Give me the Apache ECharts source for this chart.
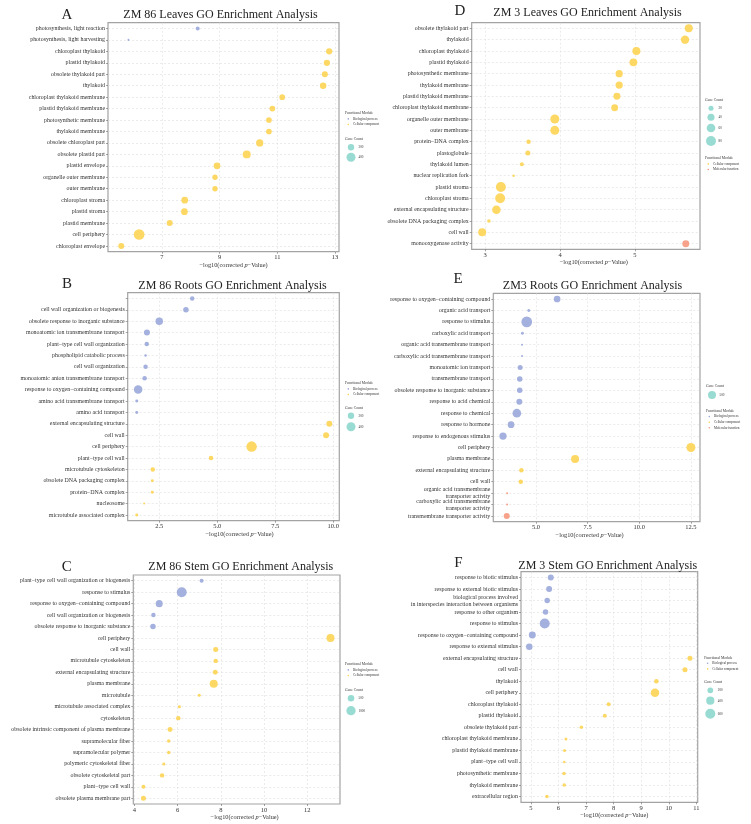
<!doctype html>
<html>
<head>
<meta charset="utf-8">
<title>GO Enrichment Bubble Plots</title>
<script src="https://cdn.jsdelivr.net/npm/echarts@6/dist/echarts.min.js"></script>
</head>
<style>
  html, body { margin: 0; padding: 0; background: #fff; }
  #main { width: 751px; height: 824px; }
</style>
<body>
<div id="main"></div>
<script>
  var SERIF = "'Liberation Serif', 'Times New Roman', serif";

  // ---- A: ZM 86 Leaves ----
  var termsA = ['photosynthesis, light reaction', 'photosynthesis, light harvesting', 'chloroplast thylakoid', 'plastid thylakoid',
    'obsolete thylakoid part', 'thylakoid', 'chloroplast thylakoid membrane', 'plastid thylakoid membrane', 'photosynthetic membrane',
    'thylakoid membrane', 'obsolete chloroplast part', 'obsolete plastid part', 'plastid envelope', 'organelle outer membrane',
    'outer membrane', 'chloroplast stroma', 'plastid stroma', 'plastid membrane', 'cell periphery', 'chloroplast envelope'];
  var pvalA = [8.24, 5.84, 12.80, 12.72, 12.65, 12.59, 11.17, 10.83, 10.71, 10.71, 10.39, 9.94, 8.91, 8.84, 8.84, 7.79, 7.78, 7.27, 6.21, 5.59];
  var countA = [79, 20, 196, 196, 178, 209, 160, 160, 160, 160, 263, 316, 222, 139, 139, 222, 222, 178, 565, 178];
  var moduleA = ['BP', 'BP', 'CC', 'CC', 'CC', 'CC', 'CC', 'CC', 'CC', 'CC', 'CC', 'CC', 'CC', 'CC', 'CC', 'CC', 'CC', 'CC', 'CC', 'CC'];

  // ---- B: ZM 86 Roots ----
  var termsB = ['', 'cell wall organization or biogenesis', 'obsolete response to inorganic substance', 'monoatomic ion transmembrane transport',
    'plant\u2212type cell wall organization', 'phospholipid catabolic process', 'cell wall organization', 'monoatomic anion transmembrane transport',
    'response to oxygen\u2212containing compound', 'amino acid transmembrane transport', 'amino acid transport', 'external encapsulating structure',
    'cell wall', 'cell periphery', 'plant\u2212type cell wall', 'microtubule cytoskeleton', 'obsolete DNA packaging complex',
    'protein\u2212DNA complex', 'nucleosome', 'microtubule associated complex'];
  var pvalB = [3.92, 3.65, 2.50, 1.97, 1.96, 1.91, 1.91, 1.87, 1.59, 1.53, 1.53, 9.83, 9.69, 6.48, 4.73, 2.22, 2.20, 2.20, 1.85, 1.53];
  var countB = [100, 149, 278, 178, 100, 31, 100, 100, 357, 44, 44, 178, 178, 544, 100, 100, 44, 44, 20, 44];
  var moduleB = ['BP', 'BP', 'BP', 'BP', 'BP', 'BP', 'BP', 'BP', 'BP', 'BP', 'BP', 'CC', 'CC', 'CC', 'CC', 'CC', 'CC', 'CC', 'CC', 'CC'];

  // ---- C: ZM 86 Stem ----
  var termsC = ['plant\u2212type cell wall organization or biogenesis', 'response to stimulus', 'response to oxygen\u2212containing compound',
    'cell wall organization or biogenesis', 'obsolete response to inorganic substance', 'cell periphery', 'cell wall', 'microtubule cytoskeleton',
    'external encapsulating structure', 'plasma membrane', 'microtubule', 'microtubule associated complex', 'cytoskeleton',
    'obsolete intrinsic component of plasma membrane', 'supramolecular fiber', 'supramolecular polymer', 'polymeric cytoskeletal fiber',
    'obsolete cytoskeletal part', 'plant\u2212type cell wall', 'obsolete plasma membrane part'];
  var pvalC = [7.11, 6.19, 5.15, 4.88, 4.86, 13.07, 7.76, 7.76, 7.74, 7.67, 7.00, 6.08, 6.03, 5.65, 5.59, 5.59, 5.36, 5.28, 4.42, 4.42];
  var countC = [185, 1157, 567, 234, 350, 740, 289, 234, 289, 740, 104, 104, 234, 289, 142, 142, 104, 234, 185, 289];
  var moduleC = ['BP', 'BP', 'BP', 'BP', 'BP', 'CC', 'CC', 'CC', 'CC', 'CC', 'CC', 'CC', 'CC', 'CC', 'CC', 'CC', 'CC', 'CC', 'CC', 'CC'];

  // ---- D: ZM 3 Leaves ----
  var termsD = ['obsolete thylakoid part', 'thylakoid', 'chloroplast thylakoid', 'plastid thylakoid', 'photosynthetic membrane',
    'thylakoid membrane', 'plastid thylakoid membrane', 'chloroplast thylakoid membrane', 'organelle outer membrane', 'outer membrane',
    'protein\u2212DNA complex', 'plastoglobule', 'thylakoid lumen', 'nuclear replication fork', 'plastid stroma', 'chloroplast stroma',
    'external encapsulating structure', 'obsolete DNA packaging complex', 'cell wall', 'monooxygenase activity'];
  var pvalD = [5.72, 5.67, 5.02, 4.98, 4.79, 4.79, 4.76, 4.73, 3.93, 3.93, 3.58, 3.57, 3.49, 3.38, 3.21, 3.20, 3.15, 3.05, 2.96, 5.68];
  var countD = [51, 55, 51, 49, 42, 42, 39, 38, 65, 65, 16, 20, 13, 5, 80, 78, 58, 10, 51, 39];
  var moduleD = ['CC', 'CC', 'CC', 'CC', 'CC', 'CC', 'CC', 'CC', 'CC', 'CC', 'CC', 'CC', 'CC', 'CC', 'CC', 'CC', 'CC', 'CC', 'CC', 'MF'];

  // ---- E: ZM3 Roots ----
  var termsE = ['response to oxygen\u2212containing compound', 'organic acid transport', 'response to stimulus', 'carboxylic acid transport',
    'organic acid transmembrane transport', 'carboxylic acid transmembrane transport', 'monoatomic ion transport', 'transmembrane transport',
    'obsolete response to inorganic substance', 'response to acid chemical', 'response to chemical', 'response to hormone',
    'response to endogenous stimulus', 'cell periphery', 'plasma membrane', 'external encapsulating structure', 'cell wall',
    'organic acid transmembrane\ntransporter activity', 'carboxylic acid transmembrane\ntransporter activity', 'transmembrane transporter activity'];
  var pvalE = [6.02, 4.65, 4.55, 4.34, 4.32, 4.32, 4.23, 4.21, 4.21, 4.19, 4.07, 3.79, 3.40, 12.50, 6.89, 4.29, 4.26, 3.60, 3.60, 3.58];
  var countE = [350, 70, 890, 70, 31, 31, 195, 236, 236, 281, 590, 350, 416, 632, 500, 158, 158, 31, 31, 281];
  var moduleE = ['BP', 'BP', 'BP', 'BP', 'BP', 'BP', 'BP', 'BP', 'BP', 'BP', 'BP', 'BP', 'BP', 'CC', 'CC', 'CC', 'CC', 'MF', 'MF', 'MF'];

  // ---- F: ZM 3 Stem ----
  var termsF = ['response to biotic stimulus', 'response to external biotic stimulus',
    'biological process involved\nin interspecies interaction between organisms', 'response to other organism', 'response to stimulus',
    'response to oxygen\u2212containing compound', 'response to external stimulus', 'external encapsulating structure', 'cell wall',
    'thylakoid', 'cell periphery', 'chloroplast thylakoid', 'plastid thylakoid', 'obsolete thylakoid part', 'chloroplast thylakoid membrane',
    'plastid thylakoid membrane', 'plant\u2212type cell wall', 'photosynthetic membrane', 'thylakoid membrane', 'extracellular region'];
  var pvalF = [5.72, 5.66, 5.59, 5.53, 5.50, 5.05, 4.94, 10.77, 10.59, 9.55, 9.50, 7.82, 7.68, 6.83, 6.27, 6.22, 6.21, 6.20, 6.21, 5.58];
  var countF = [214, 214, 180, 180, 595, 291, 251, 149, 149, 120, 430, 95, 95, 73, 54, 54, 37, 73, 73, 73];
  var moduleF = ['BP', 'BP', 'BP', 'BP', 'BP', 'BP', 'BP', 'CC', 'CC', 'CC', 'CC', 'CC', 'CC', 'CC', 'CC', 'CC', 'CC', 'CC', 'CC', 'CC'];

  var ticksA = [7, 9, 11, 13];
  var ticksB = [2.5, 5, 7.5, 10];
  var ticksC = [4, 6, 8, 10, 12];
  var ticksD = [3, 4, 5];
  var ticksE = [5, 7.5, 10, 12.5];
  var ticksF = [5, 6, 7, 8, 9, 10, 11];

  var COLORS = { BP: '#97a5d8', CC: '#fdd34f', MF: '#f6957a' };
  var MOD_NAME = { BP: 'Biological process', CC: 'Cellular component', MF: 'Molecular function' };
  var TEAL = '#8dd7cd';

  var panels = [
    { letter: 'A', title: 'ZM 86 Leaves GO Enrichment Analysis', terms: termsA, p: pvalA, count: countA, mod: moduleA, k: 0.45,
      grid: [108, 22.7, 231, 229], xmin: 5.13, xmax: 13.14, ticks: ticksA, dec: 0, shift: 10,
      letterPos: [67, 15], titlePos: [220.5, 15],
      legend: { x: 345, modY: 113.3, mods: ['BP', 'CC'], gcY: 139, sizes: [200, 400], sizeY: [147.3, 157.3] } },
    { letter: 'B', title: 'ZM 86 Roots GO Enrichment Analysis', terms: termsB, p: pvalB, count: countB, mod: moduleB, k: 0.45,
      grid: [127.7, 292.7, 211.6, 228], xmin: 1.14, xmax: 10.26, ticks: ticksB, dec: 1, shift: 6,
      letterPos: [67, 284], titlePos: [232.5, 285.7],
      legend: { x: 345, modY: 383.3, mods: ['BP', 'CC'], gcY: 407.7, sizes: [200, 400], sizeY: [415.7, 426.7] } },
    { letter: 'C', title: 'ZM 86 Stem GO Enrichment Analysis', terms: termsC, p: pvalC, count: countC, mod: moduleC, k: 0.294,
      grid: [133.3, 575, 206.7, 229], xmin: 3.95, xmax: 13.51, ticks: ticksC, dec: 0, shift: 8,
      letterPos: [66.7, 566.7], titlePos: [240.8, 567.3],
      legend: { x: 345, modY: 664.3, mods: ['BP', 'CC'], gcY: 690, sizes: [500, 1000], sizeY: [698.3, 710.7] } },
    { letter: 'D', title: 'ZM 3 Leaves GO Enrichment Analysis', terms: termsD, p: pvalD, count: countD, mod: moduleD, k: 1.12,
      grid: [471.7, 22.7, 228.3, 226.6], xmin: 2.82, xmax: 5.87, ticks: ticksD, dec: 0, shift: 8,
      letterPos: [460, 11], titlePos: [587.5, 13],
      legend: { x: 705, modY: 158.3, mods: ['CC', 'MF'], gcY: 100, sizes: [20, 40, 60, 80], sizeY: [108.3, 117.3, 128, 141] } },
    { letter: 'E', title: 'ZM3 Roots GO Enrichment Analysis', terms: termsE, p: pvalE, count: countE, mod: moduleE, k: 0.358,
      grid: [493.3, 293.3, 206.7, 228.4], xmin: 2.93, xmax: 12.94, ticks: ticksE, dec: 1, shift: -7,
      letterPos: [458, 279], titlePos: [592.5, 286],
      legend: { x: 706, modY: 411, mods: ['BP', 'CC', 'MF'], gcY: 385.7, sizes: [500], sizeY: [395] } },
    { letter: 'F', title: 'ZM 3 Stem GO Enrichment Analysis', terms: termsF, p: pvalF, count: countF, mod: moduleF, k: 0.41,
      grid: [521, 571.7, 176.7, 230.6], xmin: 4.64, xmax: 11.05, ticks: ticksF, dec: 0, shift: 5,
      letterPos: [458.3, 563.3], titlePos: [607.8, 565.7],
      legend: { x: 704.3, modY: 657.7, mods: ['BP', 'CC'], gcY: 682.3, sizes: [200, 400, 600], sizeY: [690.3, 700.7, 713.7] } }
  ];

  var grids = [], xAxes = [], yAxes = [], series = [], graphics = [];
  var gridLine = { type: [2, 2], color: '#dedede', width: 0.6 };

  panels.forEach(function (P, i) {
    grids.push({ left: P.grid[0], top: P.grid[1], width: P.grid[2], height: P.grid[3],
      show: true, borderColor: '#a3a3a3', borderWidth: 1.2, backgroundColor: '#fff', outerBoundsMode: 'none' });

    var shift = P.shift;
    xAxes.push({
      gridIndex: i, type: 'value', min: P.xmin, max: P.xmax,
      axisLine: { show: false },
      axisTick: { show: true, length: 2, customValues: P.ticks, lineStyle: { color: '#666', width: 0.6 } },
      axisLabel: { customValues: P.ticks, margin: 2.5, fontSize: 6.5, color: '#333', fontFamily: SERIF,
        formatter: (function (d) { return function (v) { return Number(v).toFixed(d); }; })(P.dec) },
      splitLine: { show: true, customValues: P.ticks, lineStyle: gridLine },
      name: '\u2212log10(corrected {i|p}\u2212Value)', nameLocation: 'middle', nameGap: 10,
      nameTextStyle: { fontSize: 6.3, color: '#333', fontFamily: SERIF,
        padding: shift >= 0 ? [0, 0, 0, 2 * shift] : [0, -2 * shift, 0, 0],
        rich: { i: { fontStyle: 'italic', fontSize: 6.3, fontFamily: SERIF, color: '#333' } } }
    });

    yAxes.push({
      gridIndex: i, type: 'category', data: P.terms, inverse: true,
      axisLine: { show: false },
      axisTick: { show: true, length: 2, alignWithLabel: true, lineStyle: { color: '#666', width: 0.6 } },
      axisLabel: { interval: 0, fontSize: 5.9, lineHeight: 7, margin: 3, color: '#333', fontFamily: SERIF },
      splitLine: { show: true, alignWithLabel: true, interval: 0, lineStyle: gridLine }
    });

    var k = P.k;
    series.push({
      type: 'scatter', xAxisIndex: i, yAxisIndex: i,
      symbolSize: function (val) { return k * Math.sqrt(val[2]); },
      itemStyle: { opacity: 0.88 },
      data: P.p.map(function (v, j) {
        return { value: [v, j, P.count[j]], itemStyle: { color: COLORS[P.mod[j]] } };
      })
    });

    // panel letter and title
    graphics.push({ type: 'text', x: P.letterPos[0], y: P.letterPos[1],
      style: { text: P.letter, font: '15px ' + SERIF, fill: '#222', align: 'center', verticalAlign: 'middle' } });
    graphics.push({ type: 'text', x: P.titlePos[0], y: P.titlePos[1],
      style: { text: P.title, font: '12px ' + SERIF, fill: '#222', align: 'center', verticalAlign: 'middle' } });

    // legends
    var L = P.legend;
    graphics.push({ type: 'text', x: L.x, y: L.modY,
      style: { text: 'Functional Module', font: '3.7px ' + SERIF, fill: '#333', verticalAlign: 'middle' } });
    L.mods.forEach(function (m, j) {
      var yy = L.modY + 5.6 * (j + 1);
      graphics.push({ type: 'circle', shape: { cx: L.x + 3.3, cy: yy, r: 0.8 }, style: { fill: COLORS[m] } });
      graphics.push({ type: 'text', x: L.x + 8, y: yy,
        style: { text: MOD_NAME[m], font: '3.3px ' + SERIF, fill: '#333', verticalAlign: 'middle' } });
    });
    graphics.push({ type: 'text', x: L.x, y: L.gcY,
      style: { text: 'Gene Count', font: '3.7px ' + SERIF, fill: '#333', verticalAlign: 'middle' } });
    L.sizes.forEach(function (s, j) {
      var r = k * Math.sqrt(s) / 2;
      graphics.push({ type: 'circle', shape: { cx: L.x + 6, cy: L.sizeY[j], r: r }, style: { fill: TEAL, opacity: 0.9 } });
      graphics.push({ type: 'text', x: L.x + 13.5, y: L.sizeY[j],
        style: { text: String(s), font: '3.3px ' + SERIF, fill: '#333', verticalAlign: 'middle' } });
    });
  });

  var chart = echarts.init(document.getElementById('main'), null, { renderer: 'canvas' });
  chart.setOption({
    backgroundColor: '#fff',
    animation: false,
    grid: grids,
    xAxis: xAxes,
    yAxis: yAxes,
    series: series,
    graphic: graphics
  });
</script>
</body>
</html>
